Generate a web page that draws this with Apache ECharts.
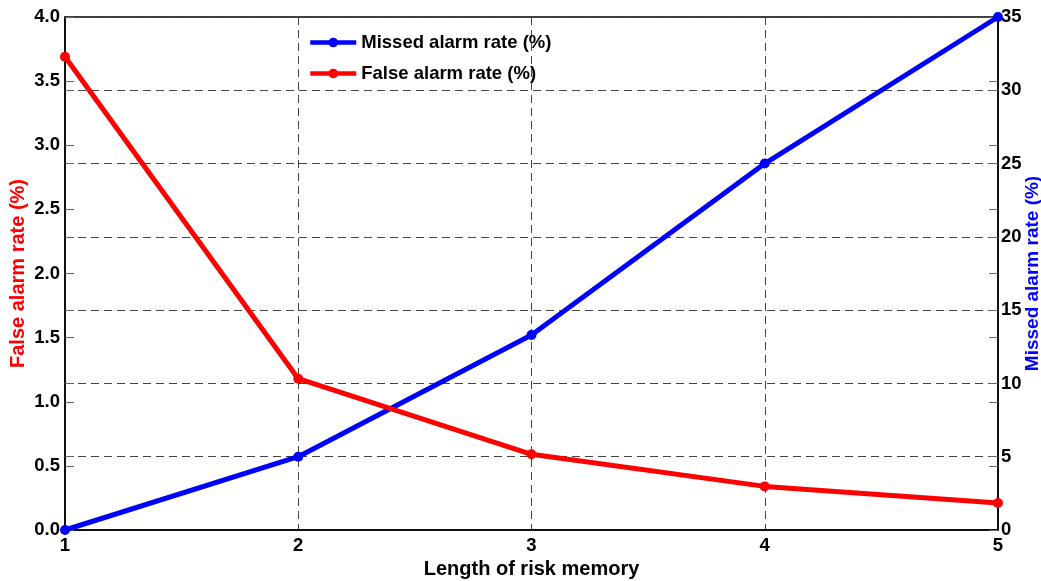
<!DOCTYPE html>
<html>
<head>
<meta charset="utf-8">
<script src="https://cdn.jsdelivr.net/npm/echarts@6/dist/echarts.min.js"></script>
<style>
  html, body { margin: 0; padding: 0; background: #fff; }
  #chartDom { width: 1041px; height: 581px; }
</style>
</head>
<body>
<div id="chartDom"></div>
<script>
// length of risk memory
const memoryLength = [1, 2, 3, 4, 5];
// false alarm rate (%), left axis
const falseAlarm = [3.69, 1.18, 0.59, 0.34, 0.21];
// missed alarm rate (%), right axis
const missedAlarm = [0, 5.0, 13.3, 25.0, 35.0];

const font = 'Liberation Sans, Arial, sans-serif';
const tickLabel = { color: '#000', fontFamily: font, fontWeight: 'bold', fontSize: 18.5 };
const dashed = { color: '#444', type: [8, 5], width: 1 };
const tick = { show: true, inside: true, length: 9, lineStyle: { color: '#666' } };

// tick-only axis echoing the other side's scale (the matlab plotyy look)
function echoAxis(position, max, interval) {
  return {
    type: 'value', position, min: 0, max, interval,
    axisLine: { show: false }, axisTick: tick,
    axisLabel: { show: false }, splitLine: { show: false }
  };
}

const chart = echarts.init(document.getElementById('chartDom'));
chart.setOption({
  animation: false,
  grid: {
    left: 65, right: 43, top: 17, bottom: 51,
    outerBoundsMode: 'none', containLabel: false,
    show: true, borderColor: '#000', borderWidth: 1.5
  },
  legend: {
    orient: 'vertical',
    left: 303, top: 28,
    itemWidth: 46, itemHeight: 12, itemGap: 12,
    lineStyle: { width: 4.5 },
    textStyle: { color: '#000', fontFamily: font, fontWeight: 'bold', fontSize: 18.5 },
    data: ['Missed alarm rate (%)', 'False alarm rate (%)']
  },
  xAxis: {
    type: 'value', min: 1, max: 5, interval: 1,
    name: 'Length of risk memory', nameLocation: 'middle', nameGap: 29,
    nameMoveOverlap: false,
    nameTextStyle: { color: '#000', fontFamily: font, fontWeight: 'bold', fontSize: 20 },
    axisLine: { lineStyle: { color: '#000', width: 1.5 } },
    axisTick: { show: false },
    axisLabel: Object.assign({ margin: 6 }, tickLabel),
    splitLine: { show: true, lineStyle: dashed }
  },
  yAxis: [
    {
      type: 'value', min: 0, max: 4, interval: 0.5,
      name: 'False alarm rate (%)', nameLocation: 'middle', nameGap: 37,
      nameMoveOverlap: false,
      nameTextStyle: { color: '#ff0000', fontFamily: font, fontWeight: 'bold', fontSize: 20 },
      axisLine: { show: true, lineStyle: { color: '#000', width: 1.5 } },
      axisTick: tick,
      axisLabel: Object.assign({ margin: 5, formatter: v => v.toFixed(1) }, tickLabel),
      splitLine: { show: false }
    },
    {
      type: 'value', min: 0, max: 35, interval: 5,
      name: 'Missed alarm rate (%)', nameLocation: 'middle', nameGap: 25,
      nameMoveOverlap: false,
      nameRotate: 90,
      nameTextStyle: { color: '#0000ff', fontFamily: font, fontWeight: 'bold', fontSize: 19 },
      axisLine: { show: true, lineStyle: { color: '#000', width: 1.5 } },
      axisTick: tick,
      axisLabel: Object.assign({ margin: 3 }, tickLabel),
      splitLine: { show: true, lineStyle: dashed }
    },
    echoAxis('left', 35, 5),
    echoAxis('right', 4, 0.5)
  ],
  series: [
    {
      name: 'Missed alarm rate (%)', type: 'line', yAxisIndex: 1,
      data: memoryLength.map((x, i) => [x, missedAlarm[i]]),
      symbol: 'circle', symbolSize: 10,
      lineStyle: { color: '#0000ff', width: 5 },
      itemStyle: { color: '#0000ff' },
      z: 3
    },
    {
      name: 'False alarm rate (%)', type: 'line', yAxisIndex: 0,
      data: memoryLength.map((x, i) => [x, falseAlarm[i]]),
      symbol: 'circle', symbolSize: 10,
      lineStyle: { color: '#ff0000', width: 5 },
      itemStyle: { color: '#ff0000' },
      z: 4
    }
  ]
});
</script>
</body>
</html>
